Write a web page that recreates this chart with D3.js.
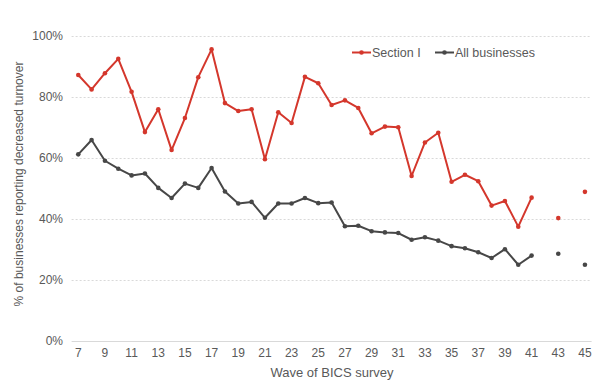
<!DOCTYPE html>
<html><head><meta charset="utf-8">
<script src="https://cdn.jsdelivr.net/npm/d3@7"></script>
<style>body{margin:0;background:#fff}svg{display:block;font-family:"Liberation Sans",Arial,sans-serif}</style>
</head><body><svg id="c" width="600" height="391"></svg>
<script>
const waves = d3.range(7, 46);
const sectionI = [87.2,82.5,87.8,92.5,81.7,68.5,76.0,62.6,73.1,86.5,95.6,78.0,75.4,76.0,59.6,75.0,71.5,86.6,84.5,77.4,78.9,76.4,68.1,70.3,70.1,54.1,65.1,68.3,52.2,54.5,52.4,44.4,45.9,37.5,47.0,null,40.3,null,48.9];
const allBusinesses = [61.2,65.9,59.1,56.5,54.3,54.9,50.2,46.9,51.6,50.2,56.7,49.0,45.1,45.6,40.4,45.1,45.1,46.9,45.2,45.4,37.6,37.8,36.0,35.6,35.4,33.2,34.0,32.9,31.1,30.4,29.1,27.2,30.1,25.0,28.0,null,28.6,null,25.0];
const yTicks = [0,20,40,60,80,100];
const xTickLabels = d3.range(7, 46, 2);
const seriesNames = ["Section I","All businesses"];
const colors = ["#d4372c","#474747"];

const svg = d3.select("#c");
const x = d3.scaleBand().domain(waves).range([71.6, 591.6]);
const y = d3.scaleLinear().domain([0,100]).range([341, 36]);
const cx = d => x(d) + x.bandwidth()/2;

// gridlines
svg.append("g").selectAll("line").data(yTicks).join("line")
  .attr("x1", 71.6).attr("x2", 591.6)
  .attr("y1", d => y(d)+0.5).attr("y2", d => y(d)+0.5)
  .attr("stroke", "#d9d9d9")
  .attr("stroke-width", 1)
  .attr("stroke-dasharray", d => d===0 ? null : "2,2");

// y axis labels
const yAxis = d3.axisLeft(y).tickValues(yTicks).tickFormat(d => d + "%").tickSize(0).tickPadding(0);
const yg = svg.append("g").attr("transform","translate(63,0)").call(yAxis);
yg.select(".domain").remove();
yg.selectAll("text").attr("fill","#595959").attr("font-size","12px").attr("font-family","Liberation Sans, Arial, sans-serif");

// x axis labels
const xAxis = d3.axisBottom(x).tickValues(xTickLabels).tickSize(0).tickPadding(0);
const xg = svg.append("g").attr("transform","translate(0,348)").call(xAxis);
xg.select(".domain").remove();
xg.selectAll("text").attr("fill","#595959").attr("font-size","12px").attr("font-family","Liberation Sans, Arial, sans-serif");

// titles
svg.append("text").attr("x", 332).attr("y", 377).attr("text-anchor","middle")
  .attr("fill","#595959").attr("font-size","13px").text("Wave of BICS survey");
svg.append("text").attr("transform","translate(23,184) rotate(-90)").attr("text-anchor","middle")
  .attr("fill","#595959").attr("font-size","12px").text("% of businesses reporting decreased turnover");

// series
[allBusinesses, sectionI].forEach((vals, k) => {
  const i = k===0 ? 1 : 0;
  const pts = waves.map((w, j) => ({w, v: vals[j]}));
  const line = d3.line().defined(d => d.v !== null).x(d => cx(d.w)).y(d => y(d.v));
  svg.append("path").datum(pts).attr("d", line).attr("fill","none")
    .attr("stroke", colors[i]).attr("stroke-width", 2).attr("stroke-linejoin","round");
  svg.append("g").selectAll("circle").data(pts.filter(d => d.v !== null)).join("circle")
    .attr("cx", d => cx(d.w)).attr("cy", d => y(d.v)).attr("r", 2.3).attr("fill", colors[i]);
});

// legend
const legend = [{x:352, name: seriesNames[0], c: colors[0]},{x:435, name: seriesNames[1], c: colors[1]}];
legend.forEach(l => {
  svg.append("line").attr("x1", l.x).attr("x2", l.x+19).attr("y1", 52.5).attr("y2", 52.5)
    .attr("stroke", l.c).attr("stroke-width", 2);
  svg.append("circle").attr("cx", l.x+9.5).attr("cy", 52.5).attr("r", 2.3).attr("fill", l.c);
  svg.append("text").attr("x", l.x+20).attr("y", 57).attr("fill","#595959").attr("font-size","12.5px").text(l.name);
});
</script></body></html>
